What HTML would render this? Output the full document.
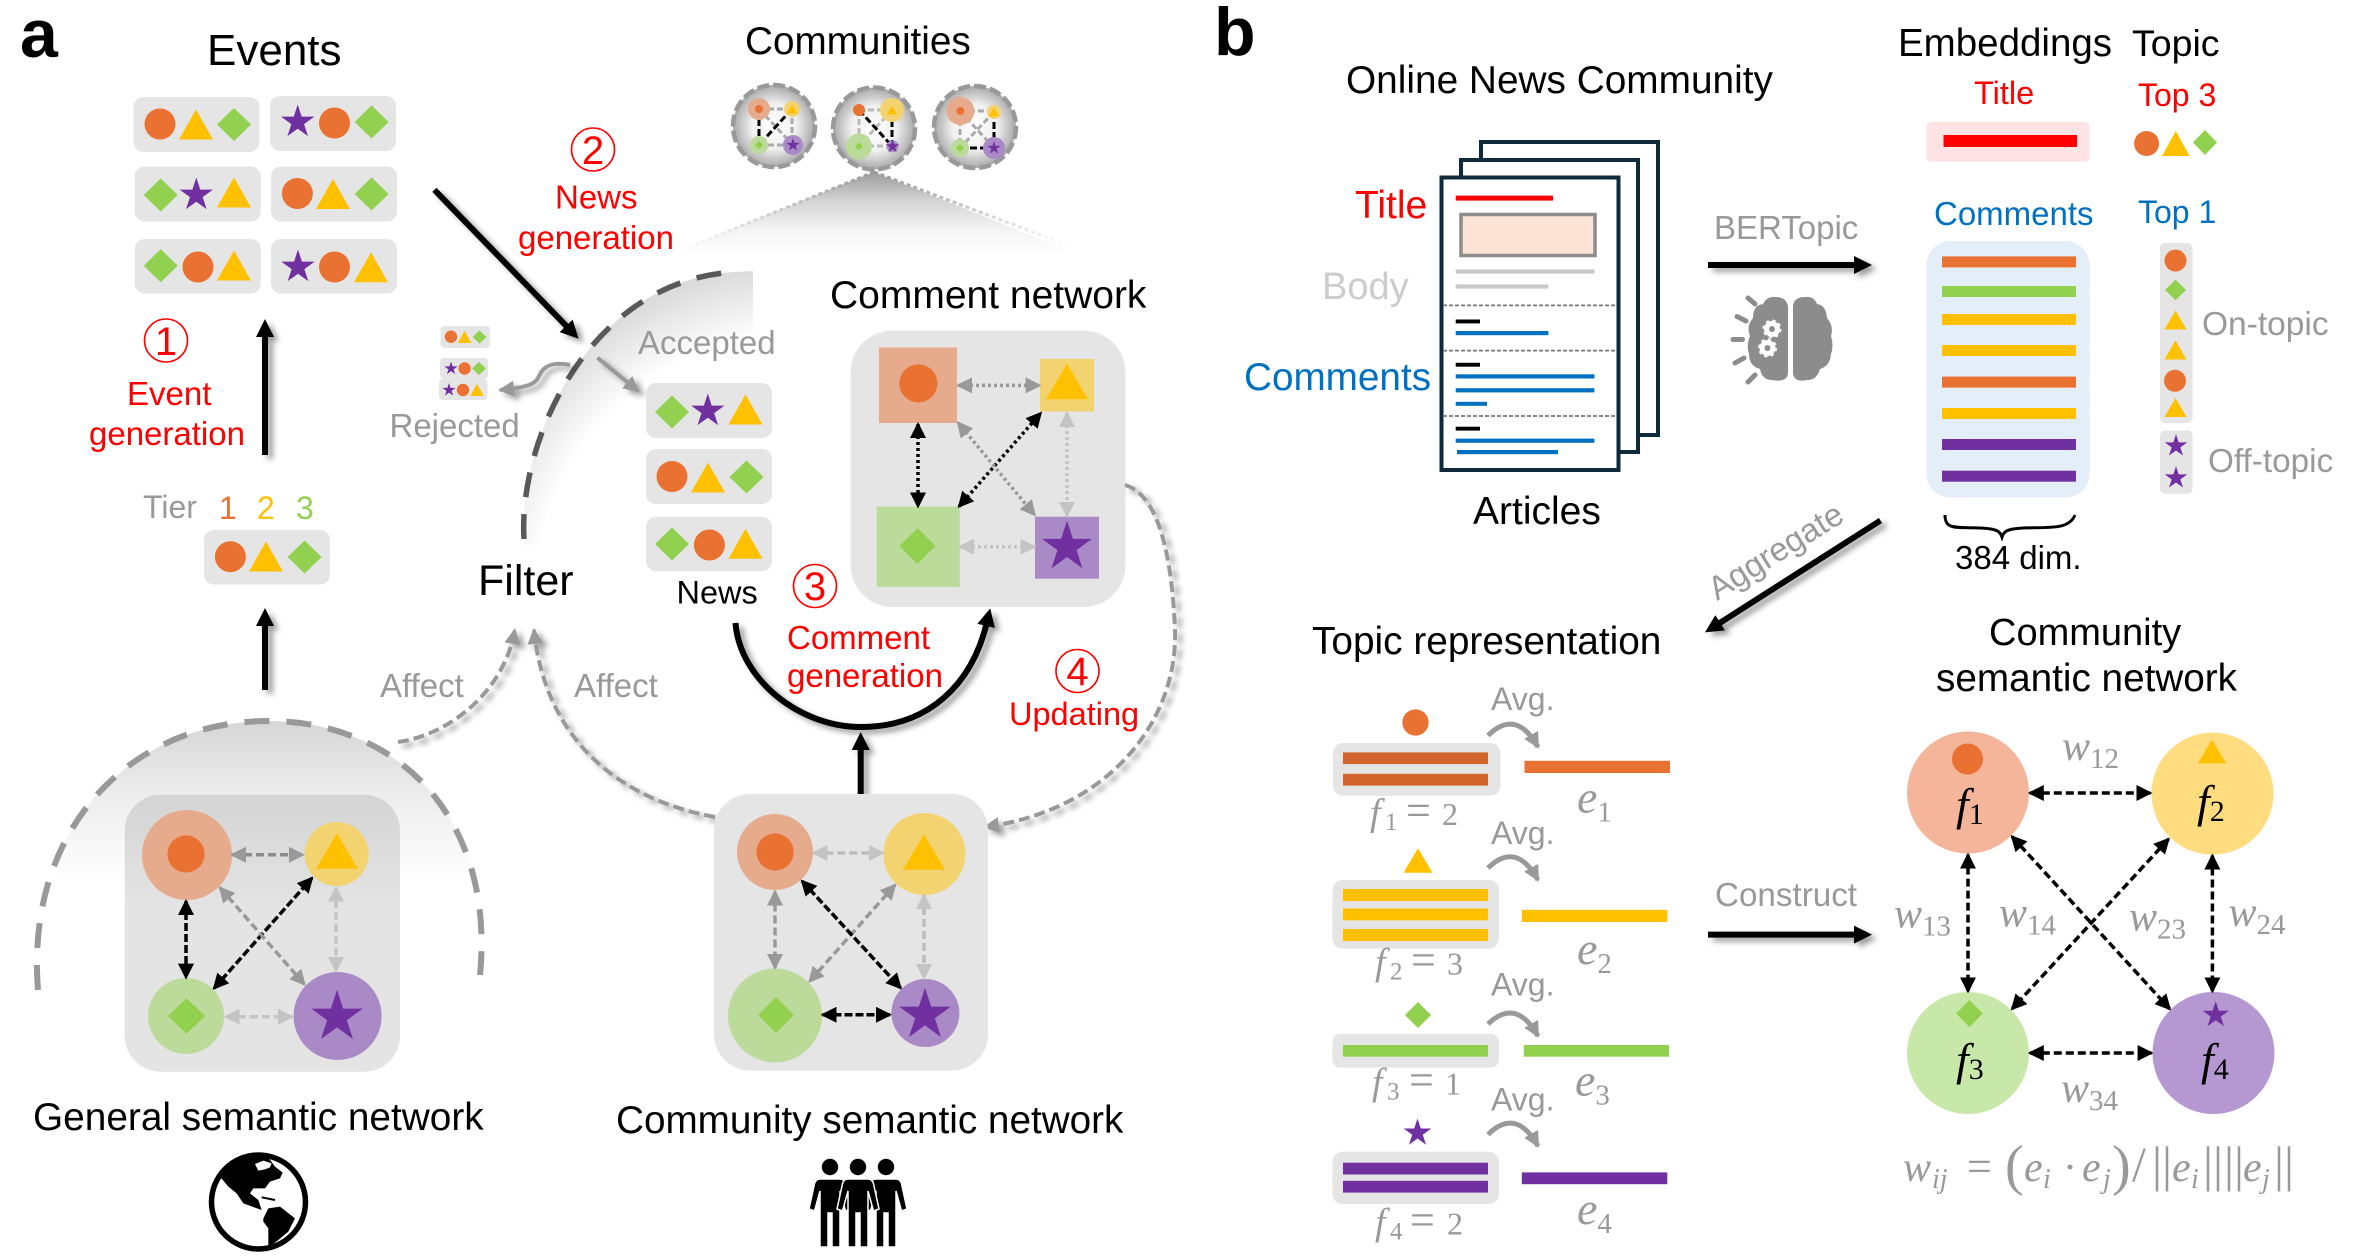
<!DOCTYPE html>
<html lang="en">
<head>
<meta charset="utf-8">
<title>Community semantic network framework</title>
<style>
html,body{margin:0;padding:0;background:#fff;width:2362px;height:1260px;overflow:hidden}
svg{display:block}
text{font-family:"Liberation Sans",sans-serif}
.m{font-family:"Liberation Serif",serif;font-style:italic}
.g{fill:#999}
.r{fill:#f00;font-size:33px}
.k{fill:#000;font-size:38.5px}
.box{fill:#e5e5e5}
.n{fill:none;stroke:#f00;stroke-width:1.6}
</style>
</head>
<body>
<svg xmlns="http://www.w3.org/2000/svg" width="2362" height="1260" viewBox="0 0 2362 1260">
<defs>
<filter id="sh" filterUnits="userSpaceOnUse" x="0" y="0" width="2362" height="1260"><feDropShadow dx="5" dy="4" stdDeviation="3" flood-color="#000" flood-opacity=".38"/></filter>
<marker id="big" markerUnits="userSpaceOnUse" markerWidth="18" markerHeight="18" viewBox="0 0 18 18" refX="4" refY="9" orient="auto"><path d="M0 0L18 9L0 18Z" fill="#000"/></marker>
<marker id="mk" markerUnits="userSpaceOnUse" markerWidth="16" markerHeight="16" viewBox="0 0 16 16" refX="14" refY="8" orient="auto-start-reverse"><path d="M0 0L16 8L0 16Z" fill="#000"/></marker>
<marker id="m9" markerUnits="userSpaceOnUse" markerWidth="16" markerHeight="16" viewBox="0 0 16 16" refX="14" refY="8" orient="auto-start-reverse"><path d="M0 0L16 8L0 16Z" fill="#999"/></marker>
<marker id="mc" markerUnits="userSpaceOnUse" markerWidth="16" markerHeight="16" viewBox="0 0 16 16" refX="14" refY="8" orient="auto-start-reverse"><path d="M0 0L16 8L0 16Z" fill="#c4c4c4"/></marker>
<radialGradient id="filt" gradientUnits="userSpaceOnUse" cx="800" cy="600" r="340"><stop offset=".78" stop-color="#fff"/><stop offset="1" stop-color="#d8d8d8"/></radialGradient>
<linearGradient id="dome" gradientUnits="userSpaceOnUse" x1="0" y1="720" x2="0" y2="880"><stop offset="0" stop-color="#d6d6d6"/><stop offset=".45" stop-color="#ececec"/><stop offset="1" stop-color="#fff"/></linearGradient>
<linearGradient id="gbox" gradientUnits="userSpaceOnUse" x1="0" y1="795" x2="0" y2="910"><stop offset="0" stop-color="#d4d4d4"/><stop offset="1" stop-color="#e4e4e4"/></linearGradient>
<linearGradient id="cone" gradientUnits="userSpaceOnUse" x1="0" y1="172" x2="0" y2="255"><stop offset="0" stop-color="#9c9c9c"/><stop offset=".35" stop-color="#d4d4d4"/><stop offset=".7" stop-color="#f4f4f4"/><stop offset="1" stop-color="#fff"/></linearGradient>
<linearGradient id="coneL" gradientUnits="userSpaceOnUse" x1="874" y1="0" x2="680" y2="0"><stop offset="0" stop-color="#999"/><stop offset="1" stop-color="#fff"/></linearGradient>
<linearGradient id="coneR" gradientUnits="userSpaceOnUse" x1="874" y1="0" x2="1072" y2="0"><stop offset="0" stop-color="#999"/><stop offset="1" stop-color="#fff"/></linearGradient>
<radialGradient id="comm"><stop offset="0" stop-color="#fff"/><stop offset=".55" stop-color="#f0f0f0"/><stop offset="1" stop-color="#a8a8a8"/></radialGradient>
<circle id="c" r="15.5" fill="#e97132"/>
<polygon id="t" points="-17,15 0,-15 17,15" fill="#ffc000"/>
<polygon id="d" points="-17,0 0,-16.5 17,0 0,16.5" fill="#92d050"/>
<polygon id="s" points="0,-17.5 3.94,-5.42 16.64,-5.41 6.37,2.07 10.29,14.16 0,6.7 -10.29,14.16 -6.37,2.07 -16.64,-5.41 -3.94,-5.42" fill="#7030a0"/>
<g id="person"><circle cx="0" cy="0" r="8.2"/><path d="M-10 12H10Q15 12 16 19L21 42L15.500 44L10 24V80H2V46H-2V80H-10V24L-15.500 44L-21 42L-16 19Q-15 12-10 12Z" stroke="#fff" stroke-width="1.500"/></g>
</defs>

<text x="20" y="57" font-size="68" font-weight="bold">a</text>
<text x="1214" y="55" font-size="68" font-weight="bold">b</text>

<!-- Filter arc background -->
<path d="M524 539C518 440 590 280 735 272L753 271V545H524Z" fill="url(#filt)"/>
<path d="M524 539C518 440 590 280 735 272" fill="none" stroke="#595959" stroke-width="5.500" stroke-dasharray="25 17"/>

<!-- Cone under community -->
<polygon points="874,172 673,253 1075,253" fill="url(#cone)"/>
<line x1="874" y1="172" x2="682" y2="250" stroke="url(#coneL)" stroke-width="3" stroke-dasharray="4 3"/>
<line x1="874" y1="172" x2="1070" y2="246" stroke="url(#coneR)" stroke-width="3" stroke-dasharray="4 3"/>

<!-- Events -->
<text x="207" y="65" font-size="44">Events</text>
<g>
<rect class="box" x="133.500" y="97" width="126" height="55" rx="10"/>
<rect class="box" x="270" y="96" width="126" height="55" rx="10"/>
<rect class="box" x="134.700" y="166.500" width="126" height="55" rx="10"/>
<rect class="box" x="271" y="166.500" width="126" height="55" rx="10"/>
<rect class="box" x="134.700" y="239" width="126" height="54.500" rx="10"/>
<rect class="box" x="271" y="239" width="126" height="54.500" rx="10"/>
<use href="#c" x="160" y="124"/><use href="#t" x="196" y="124.500"/><use href="#d" x="234" y="124.500"/>
<use href="#s" x="297.700" y="122"/><use href="#c" x="334.500" y="123"/><use href="#d" x="371.600" y="122"/>
<use href="#d" x="160.700" y="195"/><use href="#s" x="196.300" y="195"/><use href="#t" x="234" y="192.500"/>
<use href="#c" x="297.400" y="193.500"/><use href="#t" x="333" y="194"/><use href="#d" x="371.600" y="194"/>
<use href="#d" x="160.700" y="265.700"/><use href="#c" x="198" y="267"/><use href="#t" x="234" y="265.500"/>
<use href="#s" x="298" y="267"/><use href="#c" x="334.500" y="267"/><use href="#t" x="371" y="267.300"/>
</g>

<circle class="n" cx="166" cy="340.500" r="21.500"/>
<text x="166" y="355" text-anchor="middle" font-size="40" fill="#f00">1</text>
<text class="r" x="127" y="405">Event</text>
<text class="r" x="89" y="445">generation</text>

<text class="g" x="143" y="518" font-size="32">Tier</text>
<text x="219" y="519" font-size="32" fill="#e97132">1</text>
<text x="257" y="519" font-size="32" fill="#ffc000">2</text>
<text x="296" y="519" font-size="32" fill="#92d050">3</text>
<rect class="box" x="204" y="530" width="126" height="54.500" rx="10"/>
<use href="#c" x="230.400" y="556.700"/><use href="#t" x="266" y="556.500"/><use href="#d" x="304.600" y="557"/>

<!-- News generation -->
<circle class="n" cx="593" cy="149.500" r="21.500"/>
<text x="593" y="164" text-anchor="middle" font-size="40" fill="#f00">2</text>
<text class="r" x="555" y="208.500">News</text>
<text class="r" x="518" y="249">generation</text>

<!-- Rejected -->
<rect class="box" x="440.500" y="326" width="49.500" height="22" rx="4"/>
<rect class="box" x="440" y="358" width="48" height="21" rx="4"/>
<rect class="box" x="439" y="379" width="48.500" height="21" rx="4"/>
<use href="#c" transform="translate(451 336.700) scale(.4)"/><use href="#t" transform="translate(464.600 337) scale(.4)"/><use href="#d" transform="translate(479.500 337) scale(.4)"/>
<use href="#s" transform="translate(451 368.500) scale(.4)"/><use href="#c" transform="translate(464.600 368.500) scale(.4)"/><use href="#d" transform="translate(479 368.500) scale(.4)"/>
<use href="#s" transform="translate(449 390) scale(.4)"/><use href="#c" transform="translate(463 390) scale(.4)"/><use href="#t" transform="translate(477 390) scale(.4)"/>
<path d="M570 365C545 360 541 372 538 378C534 386 520 388 500 390" fill="none" stroke="#999" stroke-width="4" marker-end="url(#m9)" filter="url(#sh)"/>
<text class="g" x="389.500" y="437" font-size="33">Rejected</text>
<text x="478" y="595" font-size="43">Filter</text>

<!-- Accepted -->
<text class="g" x="638" y="354" font-size="33">Accepted</text>
<line x1="597.500" y1="357.700" x2="638" y2="391" stroke="#999" stroke-width="4" marker-end="url(#m9)" filter="url(#sh)"/>
<rect class="box" x="646" y="383" width="126" height="55" rx="10"/>
<rect class="box" x="646" y="449" width="126" height="55" rx="10"/>
<rect class="box" x="646" y="517" width="126" height="54" rx="10"/>
<use href="#d" x="672" y="412"/><use href="#s" x="707.800" y="411"/><use href="#t" x="745.500" y="409.500"/>
<use href="#c" x="672" y="476.500"/><use href="#t" x="708" y="477.500"/><use href="#d" x="746.500" y="477"/>
<use href="#d" x="672" y="544"/><use href="#c" x="709.400" y="545"/><use href="#t" x="745.500" y="543.700"/>
<text x="676.500" y="603.500" font-size="32.500">News</text>

<!-- Communities -->
<text x="745" y="54" font-size="38.700">Communities</text>
<g>
<circle cx="774" cy="126" r="41" fill="url(#comm)" stroke="#999" stroke-width="4.500" stroke-dasharray="12 4"/>
<path d="M759 109H792M792 109V145M759 145H793M759 109L793 145" stroke="#aaa" stroke-width="3" stroke-dasharray="6 3" fill="none"/>
<path d="M759 109V145M792 109L759 145" stroke="#000" stroke-width="3" stroke-dasharray="7 3" fill="none"/>
<circle cx="759" cy="109" r="11" fill="#e5ab8c"/><circle cx="759" cy="109" r="4" fill="#e97132"/>
<circle cx="792" cy="109" r="8" fill="#f3d36f"/><use href="#t" transform="translate(792 109) scale(.3)"/>
<circle cx="759" cy="145" r="9" fill="#bcdb9b"/><use href="#d" transform="translate(759 145) scale(.25)"/>
<circle cx="793" cy="145" r="10" fill="#a98ac6"/><use href="#s" transform="translate(793 145) scale(.4)"/>
</g>
<g>
<circle cx="874" cy="128.500" r="41" fill="url(#comm)" stroke="#999" stroke-width="4.500" stroke-dasharray="12 4"/>
<path d="M859 110H892M859 110V146M859 146H892M892 110L859 146" stroke="#bbb" stroke-width="3" stroke-dasharray="6 3" fill="none"/>
<path d="M892 110V146M859 110L892 146" stroke="#000" stroke-width="3" stroke-dasharray="7 3" fill="none"/>
<circle cx="859" cy="110" r="6" fill="#e97132"/>
<circle cx="892" cy="110" r="12" fill="#f3d36f"/><use href="#t" transform="translate(892 110) scale(.3)"/>
<circle cx="859" cy="146.400" r="13" fill="#bcdb9b"/><use href="#d" transform="translate(859 146.400) scale(.25)"/>
<circle cx="892.600" cy="146.400" r="6" fill="#a98ac6"/><use href="#s" transform="translate(892.600 146.400) scale(.4)"/>
</g>
<g>
<circle cx="975" cy="127" r="41" fill="url(#comm)" stroke="#999" stroke-width="4.500" stroke-dasharray="12 4"/>
<path d="M960 111H994M960 111V148M960 111L994 148M994 112L960 148" stroke="#aaa" stroke-width="3" stroke-dasharray="6 3" fill="none"/>
<path d="M994 112V148M960 148H994" stroke="#000" stroke-width="3" stroke-dasharray="7 3" fill="none"/>
<circle cx="960.400" cy="111" r="14" fill="#e5ab8c"/><circle cx="960.400" cy="111" r="4" fill="#e97132"/>
<circle cx="994" cy="112" r="7" fill="#f3d36f"/><use href="#t" transform="translate(994 112) scale(.3)"/>
<circle cx="960" cy="148" r="9" fill="#bcdb9b"/><use href="#d" transform="translate(960 148) scale(.25)"/>
<circle cx="994" cy="148" r="11" fill="#a98ac6"/><use href="#s" transform="translate(994 148) scale(.4)"/>
</g>

<!-- Comment network -->
<text x="830" y="308" font-size="39">Comment network</text>
<rect class="box" x="850.600" y="330.600" width="275" height="276.400" rx="42"/>
<rect x="879" y="347.500" width="78" height="75.500" fill="#e5ab8c"/>
<use href="#c" transform="translate(918.400 383.400) scale(1.23)"/>
<rect x="1040" y="359" width="54" height="52.500" fill="#f3d36f"/>
<use href="#t" transform="translate(1067 381.500) scale(1.23 1.18)"/>
<rect x="876.700" y="506.500" width="83" height="80.500" fill="#bcdb9b"/>
<use href="#d" transform="translate(917.500 546) scale(1.06 1.09)"/>
<rect x="1035" y="516.700" width="64" height="62" fill="#a98ac6"/>
<use href="#s" transform="translate(1067 547) scale(1.5)"/>
<line x1="958" y1="385.400" x2="1039.600" y2="385.400" stroke="#999" stroke-width="3.500" stroke-dasharray="3 3" marker-start="url(#m9)" marker-end="url(#m9)"/>
<line x1="918" y1="424" x2="918" y2="506.500" stroke="#000" stroke-width="3.500" stroke-dasharray="3 3" marker-start="url(#mk)" marker-end="url(#mk)"/>
<line x1="959" y1="506.500" x2="1040.800" y2="413" stroke="#000" stroke-width="3.500" stroke-dasharray="3 3" marker-start="url(#mk)" marker-end="url(#mk)"/>
<line x1="958" y1="422.700" x2="1034.700" y2="515" stroke="#999" stroke-width="3.500" stroke-dasharray="3 3" marker-start="url(#m9)" marker-end="url(#m9)"/>
<line x1="1067" y1="413" x2="1067" y2="516" stroke="#c4c4c4" stroke-width="3.500" stroke-dasharray="3 3" marker-start="url(#mc)" marker-end="url(#mc)"/>
<line x1="960" y1="546.800" x2="1034.700" y2="546.800" stroke="#c4c4c4" stroke-width="3.500" stroke-dasharray="3 3" marker-start="url(#mc)" marker-end="url(#mc)"/>

<circle class="n" cx="815" cy="586" r="21.500"/>
<text x="815" y="600" text-anchor="middle" font-size="40" fill="#f00">3</text>
<text class="r" x="787" y="649">Comment</text>
<text class="r" x="787" y="687">generation</text>
<circle class="n" cx="1077.500" cy="671" r="21.500"/>
<text x="1077.500" y="685" text-anchor="middle" font-size="40" fill="#f00">4</text>
<text class="r" x="1009" y="725" style="font-size:32.500px">Updating</text>

<!-- Big black arrows -->
<g fill="none" stroke="#000" stroke-width="6" filter="url(#sh)">
<line x1="265" y1="455" x2="265" y2="333" marker-end="url(#big)"/>
<line x1="265" y1="690" x2="265" y2="622" marker-end="url(#big)"/>
<line x1="434.400" y1="189.800" x2="568.900" y2="328.700" marker-end="url(#big)"/>
<path d="M735.500 623C740 680 800 727 861 727C928 727 972 685 987 622" marker-end="url(#big)"/>
<line x1="860.700" y1="794" x2="860.700" y2="746" marker-end="url(#big)"/>
<line x1="1708" y1="265" x2="1858" y2="265" marker-end="url(#big)"/>
<line x1="1708" y1="934.600" x2="1858" y2="934.600" marker-end="url(#big)"/>
<line x1="1880.500" y1="520.500" x2="1716.800" y2="624.900" marker-end="url(#big)"/>
</g>

<!-- Dashed gray curves -->
<g fill="none" stroke="#999" stroke-width="4" stroke-dasharray="11 5" filter="url(#sh)">
<path d="M398 742C450 735 505 690 514.700 630" marker-end="url(#m9)"/>
<path d="M715 817C620 800 545 740 534 630" marker-end="url(#m9)"/>
<path d="M1125 485C1160 495 1172 560 1175 630C1178 720 1110 810 985 827" marker-end="url(#m9)"/>
</g>
<text class="g" x="380" y="697" font-size="33">Affect</text>
<text class="g" x="574" y="697" font-size="33">Affect</text>

<!-- General semantic network -->
<path d="M38 990C25 830 130 721 268 721C400 721 495 820 480 975Z" fill="url(#dome)"/>
<path d="M38 990C25 830 130 721 268 721C400 721 495 820 480 975" fill="none" stroke="#999" stroke-width="6" stroke-dasharray="25 17"/>
<rect x="124.700" y="794.700" width="275.300" height="277" rx="36" fill="url(#gbox)"/>
<circle cx="187" cy="855" r="45" fill="#e5ab8c"/>
<use href="#c" transform="translate(186 854) scale(1.2)"/>
<circle cx="336.700" cy="854" r="32" fill="#f3d36f"/>
<use href="#t" transform="translate(337 851) scale(1.23 1.18)"/>
<circle cx="186" cy="1016" r="38" fill="#bcdb9b"/>
<use href="#d" transform="translate(186.500 1016) scale(1.08)"/>
<circle cx="337.600" cy="1016" r="44" fill="#a98ac6"/>
<use href="#s" transform="translate(337 1017) scale(1.55)"/>
<line x1="232" y1="854.800" x2="303" y2="854.800" stroke="#8a8a8a" stroke-width="3.500" stroke-dasharray="8 4" marker-start="url(#m9)" marker-end="url(#m9)"/>
<line x1="186" y1="901" x2="186" y2="977.600" stroke="#000" stroke-width="3.500" stroke-dasharray="8 3" marker-start="url(#mk)" marker-end="url(#mk)"/>
<line x1="214" y1="988.400" x2="312" y2="878" stroke="#000" stroke-width="3.500" stroke-dasharray="8 3" marker-start="url(#mk)" marker-end="url(#mk)"/>
<line x1="220" y1="887.700" x2="304.500" y2="984.500" stroke="#999" stroke-width="3.500" stroke-dasharray="8 4" marker-start="url(#m9)" marker-end="url(#m9)"/>
<line x1="336" y1="887.700" x2="336" y2="971" stroke="#c4c4c4" stroke-width="3.500" stroke-dasharray="8 4" marker-start="url(#mc)" marker-end="url(#mc)"/>
<line x1="225.700" y1="1016.700" x2="292" y2="1016.700" stroke="#c4c4c4" stroke-width="3.500" stroke-dasharray="8 4" marker-start="url(#mc)" marker-end="url(#mc)"/>
<text x="33" y="1130" font-size="38.800">General semantic network</text>

<!-- Globe -->
<g>
<circle cx="258.500" cy="1202" r="47" fill="#fff" stroke="#000" stroke-width="5.500"/>
<g transform="translate(200 1150) scale(.3333)">
<path d="M60 80L100 30L200 16L225 50L248 68L240 85L210 95L195 115L160 115L150 130L175 150L185 180L130 160L110 130L85 110Z"/>
<path d="M165 42L190 32L215 40L210 52L195 58L175 62Z" fill="#fff"/>
<path d="M185 142L225 150" stroke="#000" stroke-width="6" fill="none"/>
<path d="M190 205L205 175L240 170L285 205L265 245L235 270L215 285L205 290L205 235L190 215Z"/>
</g>
</g>

<!-- Community semantic network -->
<rect class="box" x="714" y="794" width="274" height="276.600" rx="36"/>
<circle cx="775" cy="852" r="38" fill="#e5ab8c"/>
<use href="#c" transform="translate(775 852) scale(1.2)"/>
<circle cx="924.400" cy="854" r="41" fill="#f3d36f"/>
<use href="#t" transform="translate(924 852) scale(1.23 1.18)"/>
<circle cx="775" cy="1015.500" r="47" fill="#bcdb9b"/>
<use href="#d" transform="translate(776 1015) scale(1.05 1.09)"/>
<circle cx="925.400" cy="1013" r="34" fill="#a98ac6"/>
<use href="#s" transform="translate(925 1015) scale(1.55)"/>
<line x1="813.300" y1="853" x2="883" y2="853" stroke="#bdbdbd" stroke-width="3.500" stroke-dasharray="8 4" marker-start="url(#mc)" marker-end="url(#mc)"/>
<line x1="775" y1="891.500" x2="775" y2="968" stroke="#999" stroke-width="3.500" stroke-dasharray="8 4" marker-start="url(#m9)" marker-end="url(#m9)"/>
<line x1="895" y1="885" x2="809.500" y2="981.500" stroke="#999" stroke-width="3.500" stroke-dasharray="8 4" marker-start="url(#m9)" marker-end="url(#m9)"/>
<line x1="802" y1="881" x2="900.600" y2="988" stroke="#000" stroke-width="3.500" stroke-dasharray="8 3" marker-start="url(#mk)" marker-end="url(#mk)"/>
<line x1="924" y1="895" x2="924" y2="978" stroke="#bdbdbd" stroke-width="3.500" stroke-dasharray="8 4" marker-start="url(#mc)" marker-end="url(#mc)"/>
<line x1="822.500" y1="1014.800" x2="890" y2="1014.800" stroke="#000" stroke-width="3.500" stroke-dasharray="8 3" marker-start="url(#mk)" marker-end="url(#mk)"/>
<text x="616" y="1133" font-size="38.700">Community semantic network</text>

<!-- People icon -->
<g>
<use href="#person" x="830" y="1167"/>
<use href="#person" x="886" y="1167"/>
<use href="#person" x="858" y="1167"/>
</g>

<!-- PANEL B -->
<text x="1346" y="93" font-size="38.800">Online News Community</text>
<g fill="#fff" stroke="#0f2a3a" stroke-width="4">
<rect x="1481" y="142" width="177" height="293"/>
<rect x="1461" y="160" width="177" height="292"/>
<rect x="1441.500" y="177.500" width="177" height="292.500"/>
</g>
<rect x="1455.700" y="195.600" width="97.300" height="5" fill="#f00"/>
<rect x="1461" y="214.500" width="134" height="41" fill="#fbe3d6" stroke="#8c8c8c" stroke-width="3.500"/>
<rect x="1455.700" y="269.400" width="138.700" height="4.200" fill="#c8c8c8"/>
<rect x="1455.700" y="284.400" width="92.700" height="4.200" fill="#c8c8c8"/>
<line x1="1443" y1="305.400" x2="1616" y2="305.400" stroke="#777" stroke-width="1.800" stroke-dasharray="4 2"/>
<line x1="1443" y1="350.600" x2="1616" y2="350.600" stroke="#777" stroke-width="1.800" stroke-dasharray="4 2"/>
<line x1="1443" y1="416" x2="1616" y2="416" stroke="#777" stroke-width="1.800" stroke-dasharray="4 2"/>
<g fill="#000">
<rect x="1455.700" y="319.500" width="24.300" height="3.900"/>
<rect x="1455.700" y="362.800" width="24.300" height="3.900"/>
<rect x="1455.700" y="426.700" width="24.300" height="3.900"/>
</g>
<g fill="#0070c0">
<rect x="1455.700" y="331" width="92.700" height="4.200"/>
<rect x="1455.700" y="374.300" width="138.700" height="4.200"/>
<rect x="1455.700" y="388.200" width="138.700" height="4.200"/>
<rect x="1455.700" y="401.800" width="31.300" height="4"/>
<rect x="1455.700" y="438.600" width="138.700" height="4.200"/>
<rect x="1457" y="450" width="101" height="4.200"/>
</g>
<text x="1355" y="218" font-size="39" fill="#f00">Title</text>
<text x="1322" y="299" font-size="38" fill="#ccc">Body</text>
<text x="1244" y="390" font-size="38.700" fill="#0070c0">Comments</text>
<text x="1473" y="524" font-size="39">Articles</text>

<text class="g" x="1714" y="239" font-size="33">BERTopic</text>
<g>
<path d="M1788 306Q1786 297 1776 297Q1767 296 1763 304Q1753 305 1753 318Q1746 326 1750 336Q1746 346 1749 354Q1749 366 1760 369Q1762 380 1772 380Q1788 383 1788 372Z" fill="#8c8c8c"/>
<path d="M1793 306Q1794 297 1805 297Q1814 296 1817 304Q1826 305 1827 318Q1834 326 1831 336Q1834 346 1831 354Q1830 366 1820 369Q1817 380 1807 380Q1793 383 1793 372Z" fill="#8c8c8c"/>
<g>
<circle cx="1772" cy="329" r="8" fill="#fff" stroke="#fff" stroke-width="3" stroke-dasharray="3 3.300"/>
<circle cx="1772" cy="329" r="3" fill="#8c8c8c"/>
</g>
<g>
<circle cx="1767.500" cy="348" r="8" fill="#fff" stroke="#fff" stroke-width="3" stroke-dasharray="3 3.300"/>
<circle cx="1767.500" cy="348" r="3" fill="#8c8c8c"/>
</g>
<path d="M1748 298L1755 304M1737 316.500L1746 321M1733 339.500H1742.500M1735 363L1744 358M1748 382L1755 375" stroke="#8c8c8c" stroke-width="5" stroke-linecap="round" fill="none"/>
</g>

<text x="1898" y="56" font-size="38.500">Embeddings</text>
<text x="2132" y="56" font-size="37.500">Topic</text>
<text x="1974" y="104" font-size="32.500" fill="#f00">Title</text>
<text x="2138" y="106" font-size="32" fill="#f00">Top 3</text>
<rect x="1926.500" y="121.700" width="163" height="40" rx="5" fill="#fde3e3"/>
<rect x="1943.500" y="135" width="133.500" height="12" fill="#f00"/>
<circle cx="2146.600" cy="143.500" r="12.500" fill="#e97132"/>
<use href="#t" transform="translate(2175.800 143.500) scale(.81 .83)"/>
<use href="#d" transform="translate(2205 142.500) scale(.71 .76)"/>

<text x="1934" y="225" font-size="33" fill="#0070c0">Comments</text>
<text x="2138" y="223" font-size="32" fill="#0070c0">Top 1</text>
<rect x="1926.500" y="241" width="163" height="256.500" rx="24" fill="#e3eef8"/>
<rect x="1942" y="256.400" width="134" height="11" fill="#e97132"/>
<rect x="1942" y="286" width="134" height="11" fill="#92d050"/>
<rect x="1942" y="314" width="134" height="11" fill="#ffc000"/>
<rect x="1942" y="345" width="134" height="11" fill="#ffc000"/>
<rect x="1942" y="376.600" width="134" height="11" fill="#e97132"/>
<rect x="1942" y="408" width="134" height="11" fill="#ffc000"/>
<rect x="1942" y="439" width="134" height="11" fill="#7030a0"/>
<rect x="1942" y="470.700" width="134" height="11" fill="#7030a0"/>
<path d="M1954 515C1954 530 1964 527 1990 528C2006 529 2009 531 2011 537C2013 531 2016 529 2032 528C2058 527 2078 530 2084 515" fill="none" stroke="#000" stroke-width="3" transform="translate(-9 0)"/>
<text x="1955" y="569" font-size="33">384 dim.</text>

<rect x="2160" y="243" width="32.600" height="180" rx="5" class="box"/>
<circle cx="2175.500" cy="260.600" r="11" fill="#e97132"/>
<use href="#d" transform="translate(2175.500 290) scale(.62 .62)"/>
<use href="#t" transform="translate(2175.500 320) scale(.65 .63)"/>
<use href="#t" transform="translate(2175.500 350) scale(.65 .63)"/>
<circle cx="2175" cy="380.800" r="11" fill="#e97132"/>
<use href="#t" transform="translate(2175.500 407.500) scale(.65 .63)"/>
<rect x="2160" y="430.500" width="32.600" height="63.200" rx="5" class="box"/>
<use href="#s" transform="translate(2176 446) scale(.68)"/>
<use href="#s" transform="translate(2176 478) scale(.68)"/>
<text class="g" x="2202" y="335" font-size="33.500">On-topic</text>
<text class="g" x="2208" y="472" font-size="33.300">Off-topic</text>

<text class="g" transform="translate(1717 601) rotate(-32)" font-size="33">Aggregate</text>

<!-- Topic representation -->
<text x="1312" y="654" font-size="38.800">Topic representation</text>
<g class="g" font-size="32">
<text class="g" x="1491" y="710">Avg.</text>
<text class="g" x="1491" y="844">Avg.</text>
<text class="g" x="1491" y="995.500">Avg.</text>
<text class="g" x="1491" y="1110.500">Avg.</text>
</g>
<g fill="none" stroke="#999" stroke-width="5">
<path d="M1488 735.500Q1516 708 1538 747" marker-end="url(#m9)"/>
<path d="M1488 868Q1516 840.500 1538 880" marker-end="url(#m9)"/>
<path d="M1488 1024Q1516 997 1538 1036" marker-end="url(#m9)"/>
<path d="M1488 1134.500Q1516 1107 1538 1146" marker-end="url(#m9)"/>
</g>
<use href="#c" transform="translate(1415.500 722.500) scale(.85)"/>
<rect class="box" x="1333" y="743" width="167.400" height="52.700" rx="10"/>
<rect x="1343" y="752.400" width="145" height="11.700" fill="#d2652b"/>
<rect x="1343" y="773.800" width="145" height="11.800" fill="#d2652b"/>
<rect x="1524.500" y="760.800" width="145.500" height="12.200" fill="#e97132"/>

<use href="#t" transform="translate(1418 860.500) scale(.85 .82)"/>
<rect class="box" x="1332.400" y="880" width="166.600" height="68.500" rx="10"/>
<rect x="1343" y="889" width="145" height="12" fill="#ffc000"/>
<rect x="1343" y="908.500" width="145" height="11.800" fill="#ffc000"/>
<rect x="1343" y="929" width="145" height="12" fill="#ffc000"/>
<rect x="1521.800" y="909.800" width="145.500" height="12.200" fill="#ffc000"/>

<use href="#d" transform="translate(1418 1015) scale(.77 .79)"/>
<rect class="box" x="1332.400" y="1034" width="166.600" height="33.600" rx="8"/>
<rect x="1343" y="1045" width="145" height="11.700" fill="#92d050"/>
<rect x="1523.800" y="1045" width="145.200" height="11.700" fill="#92d050"/>

<use href="#s" transform="translate(1417.500 1133) scale(.83)"/>
<rect class="box" x="1332.400" y="1151.800" width="166.600" height="52.200" rx="10"/>
<rect x="1343" y="1162.700" width="145" height="11.800" fill="#7030a0"/>
<rect x="1343" y="1180.800" width="145" height="11.800" fill="#7030a0"/>
<rect x="1521.800" y="1172.400" width="145.500" height="11.800" fill="#7030a0"/>

<g>
<text class="m g" x="1370" y="825" font-size="38">f<tspan font-size="25" font-style="normal" x="1385" dy="5">1</tspan><tspan font-size="44" font-style="normal" x="1406" dy="-5">=</tspan><tspan font-size="32" font-style="normal" x="1442">2</tspan></text>
<text class="m g" x="1375" y="974.500" font-size="38">f<tspan font-size="25" font-style="normal" x="1390" dy="5">2</tspan><tspan font-size="44" font-style="normal" x="1411" dy="-5">=</tspan><tspan font-size="32" font-style="normal" x="1447">3</tspan></text>
<text class="m g" x="1372" y="1094.500" font-size="38">f<tspan font-size="25" font-style="normal" x="1387" dy="5">3</tspan><tspan font-size="44" font-style="normal" x="1409" dy="-5">=</tspan><tspan font-size="32" font-style="normal" x="1445">1</tspan></text>
<text class="m g" x="1375" y="1234.500" font-size="38">f<tspan font-size="25" font-style="normal" x="1390" dy="5">4</tspan><tspan font-size="44" font-style="normal" x="1410" dy="-5">=</tspan><tspan font-size="32" font-style="normal" x="1447">2</tspan></text>
<text class="m g" x="1577" y="812.500" font-size="46">e<tspan font-size="29" font-style="normal" dy="9">1</tspan></text>
<text class="m g" x="1577" y="964" font-size="46">e<tspan font-size="29" font-style="normal" dy="9">2</tspan></text>
<text class="m g" x="1575" y="1095.500" font-size="46">e<tspan font-size="29" font-style="normal" dy="9">3</tspan></text>
<text class="m g" x="1577" y="1224" font-size="46">e<tspan font-size="29" font-style="normal" dy="9">4</tspan></text>
</g>

<!-- Community semantic network, panel b -->
<text x="1989" y="645" font-size="38">Community</text>
<text x="1936" y="691" font-size="38.700">semantic network</text>
<circle cx="1968" cy="792.500" r="61" fill="#f4b59a"/>
<circle cx="2212.500" cy="793.600" r="61" fill="#ffdc80"/>
<circle cx="1968" cy="1053" r="61" fill="#c8e8a9"/>
<circle cx="2213.500" cy="1053" r="61" fill="#b597d1"/>
<circle cx="1967.500" cy="759" r="15.500" fill="#e97132"/>
<use href="#t" transform="translate(2212 751.500) scale(.83 .79)"/>
<use href="#d" transform="translate(1969.500 1013.500) scale(.79 .82)"/>
<use href="#s" transform="translate(2215.700 1015) scale(.79)"/>
<text class="m" x="1956" y="820" font-size="46">f<tspan font-size="30" font-style="normal" dy="4">1</tspan></text>
<text class="m" x="2197" y="817" font-size="46">f<tspan font-size="30" font-style="normal" dy="4">2</tspan></text>
<text class="m" x="1956" y="1075" font-size="46">f<tspan font-size="30" font-style="normal" dy="4">3</tspan></text>
<text class="m" x="2201" y="1075" font-size="46">f<tspan font-size="30" font-style="normal" dy="4">4</tspan></text>
<g fill="none" stroke="#000" stroke-width="3.500" stroke-dasharray="8 4">
<line x1="2029.800" y1="793" x2="2150.500" y2="793" marker-start="url(#mk)" marker-end="url(#mk)"/>
<line x1="2029.800" y1="1053" x2="2151.600" y2="1053" marker-start="url(#mk)" marker-end="url(#mk)"/>
<line x1="1968" y1="854.600" x2="1968" y2="991.400" marker-start="url(#mk)" marker-end="url(#mk)"/>
<line x1="2212.400" y1="855.500" x2="2212.400" y2="991.400" marker-start="url(#mk)" marker-end="url(#mk)"/>
<line x1="2012" y1="836.500" x2="2169.800" y2="1009" marker-start="url(#mk)" marker-end="url(#mk)"/>
<line x1="2168.600" y1="839" x2="2012" y2="1009" marker-start="url(#mk)" marker-end="url(#mk)"/>
</g>
<g>
<text class="m g" x="2062" y="760" font-size="42">w<tspan font-size="29" font-style="normal" dy="8">12</tspan></text>
<text class="m g" x="1894" y="927.500" font-size="42">w<tspan font-size="29" font-style="normal" dy="8">13</tspan></text>
<text class="m g" x="1999" y="926.500" font-size="42">w<tspan font-size="29" font-style="normal" dy="8">14</tspan></text>
<text class="m g" x="2129" y="930.500" font-size="42">w<tspan font-size="29" font-style="normal" dy="8">23</tspan></text>
<text class="m g" x="2228.500" y="926" font-size="42">w<tspan font-size="29" font-style="normal" dy="8">24</tspan></text>
<text class="m g" x="2061" y="1102" font-size="42">w<tspan font-size="29" font-style="normal" dy="8">34</tspan></text>
</g>
<text class="m g" x="1903" y="1181" font-size="42">w<tspan font-size="28" x="1932" dy="7">ij</tspan><tspan font-size="44" font-style="normal" x="1967" dy="-7">=</tspan><tspan font-size="56" font-style="normal" x="2005" dy="3">(</tspan><tspan x="2024" dy="-3">e</tspan><tspan font-size="28" x="2043" dy="7">i</tspan><tspan font-style="normal" x="2063" dy="-7">·</tspan><tspan x="2082">e</tspan><tspan font-size="28" x="2103" dy="7">j</tspan><tspan font-size="56" font-style="normal" x="2112" dy="-4">)</tspan><tspan font-size="50" font-style="normal" x="2132" dy="-3">/</tspan><tspan font-size="50" font-style="normal" x="2152">||</tspan><tspan x="2172">e</tspan><tspan font-size="28" x="2191" dy="7">i</tspan><tspan font-size="50" font-style="normal" x="2203" dy="-7">||</tspan><tspan font-size="50" font-style="normal" x="2224">||</tspan><tspan x="2243">e</tspan><tspan font-size="28" x="2262" dy="7">j</tspan><tspan font-size="50" font-style="normal" x="2274" dy="-7">||</tspan></text>
<text class="g" x="1715" y="906" font-size="33.200">Construct</text>
</svg>
</body>
</html>
